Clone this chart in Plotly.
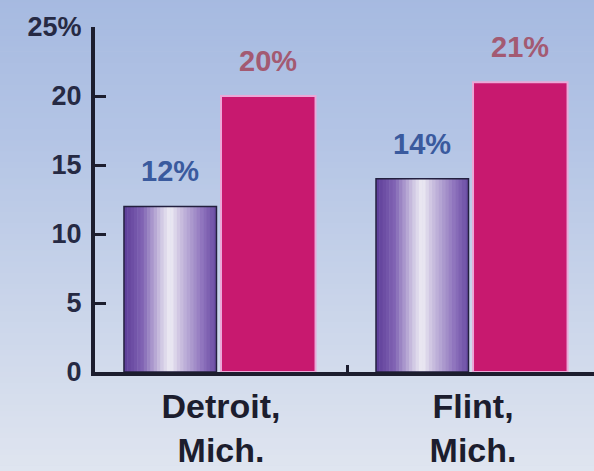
import plotly.graph_objects as go

# Chart data
cities = ["Detroit,<br>Mich.", "Flint,<br>Mich."]
share_a = [12, 14]   # purple bars
share_b = [20, 21]   # magenta bars
y_ticks = [0, 5, 10, 15, 20, 25]
y_tick_labels = ["0", "5", "10", "15", "20", "25%"]

DARK = "#1c1d2e"
FONT = "Liberation Sans"


def hex_to_rgb(h):
    h = h.lstrip("#")
    return tuple(int(h[i:i + 2], 16) for i in (0, 2, 4))


def lerp_stops(stops, t):
    for (t0, c0), (t1, c1) in zip(stops, stops[1:]):
        if t0 <= t <= t1:
            f = 0 if t1 == t0 else (t - t0) / (t1 - t0)
            a, b = hex_to_rgb(c0), hex_to_rgb(c1)
            return "rgb(%d,%d,%d)" % tuple(round(a[k] + (b[k] - a[k]) * f) for k in range(3))
    return stops[-1][1]


fig = go.Figure()

# Cylinder-like shading for the purple bars: a set of thin overlaid strips
purple_stops = [(0.0, "#5c3c97"), (0.2, "#8164b4"), (0.42, "#d6cfe6"),
                (0.5, "#eeecf4"), (0.6, "#cdc3e1"), (0.85, "#8d72bc"), (1.0, "#6849a2")]
a_offset, a_width = -0.385, 0.367
n_strips = 28
for i in range(n_strips):
    fig.add_trace(go.Bar(
        x=cities, y=share_a,
        offset=a_offset + a_width * i / n_strips,
        width=a_width / n_strips + 0.002,
        marker=dict(color=lerp_stops(purple_stops, (i + 0.5) / n_strips), line=dict(width=0)),
        hoverinfo="skip", showlegend=False,
    ))
# outline of the purple bars
fig.add_trace(go.Bar(
    x=cities, y=share_a, offset=a_offset, width=a_width,
    marker=dict(color="rgba(0,0,0,0)", line=dict(color="#23203f", width=1.5)),
    hoverinfo="skip", showlegend=False,
))

# Magenta bars
b_offset, b_width = 0.0, 0.375
fig.add_trace(go.Bar(
    x=cities, y=share_b, offset=b_offset, width=b_width,
    marker=dict(color="#c8196f", line=dict(color="#eaa8d8", width=2)),
    hoverinfo="skip", showlegend=False,
))

# Value labels above bars
for ys, off, w, col in [(share_a, a_offset, a_width, "#3a5a9e"),
                        (share_b, b_offset, b_width, "#a35a72")]:
    for k, v in enumerate(ys):
        fig.add_annotation(
            x=k + off + w / 2, y=v, xref="x", yref="y",
            text=f"{v}%", showarrow=False, yanchor="middle", yshift=35,
            font=dict(family=FONT, size=29, color=col, weight="bold"),
        )

# Soft vertical background gradient
bg_stops = [(0.0, "#e1e6f0"), (0.35, "#cad5ea"), (0.7, "#b3c4e5"), (1.0, "#a5b9e0")]
n_bands = 90
y_lo, y_hi = -0.32, 1.12
for i in range(n_bands):
    fig.add_shape(
        type="rect", xref="paper", yref="paper", layer="below",
        x0=-0.3, x1=1.1,
        y0=y_lo + (y_hi - y_lo) * i / n_bands,
        y1=y_lo + (y_hi - y_lo) * (i + 1) / n_bands + 0.002,
        fillcolor=lerp_stops(bg_stops, (i + 0.5) / n_bands), line=dict(width=0),
    )

fig.update_layout(
    width=594, height=471,
    margin=dict(l=95, r=0, t=27, b=99, autoexpand=False),
    barmode="overlay",
    paper_bgcolor="#c8d3ea",
    plot_bgcolor="rgba(0,0,0,0)",
    showlegend=False,
    xaxis=dict(
        type="category", range=[-0.5, 1.48],
        showline=True, linewidth=4, linecolor=DARK,
        ticks="inside", tickson="boundaries", ticklen=7, tickwidth=3, tickcolor=DARK,
        tickfont=dict(family=FONT, size=34, color=DARK, weight="bold"),
        ticklabelstandoff=1, automargin=False,
        showgrid=False, zeroline=False,
    ),
    yaxis=dict(
        range=[0, 25],
        tickvals=y_ticks, ticktext=y_tick_labels,
        showline=True, linewidth=4, linecolor=DARK,
        ticks="inside", ticklen=11, tickwidth=3, tickcolor=DARK,
        tickfont=dict(family=FONT, size=27, color="#262a44", weight="bold"),
        ticklabelstandoff=4, automargin=False,
        showgrid=False, zeroline=False,
    ),
)

fig.write_html("out.html")
